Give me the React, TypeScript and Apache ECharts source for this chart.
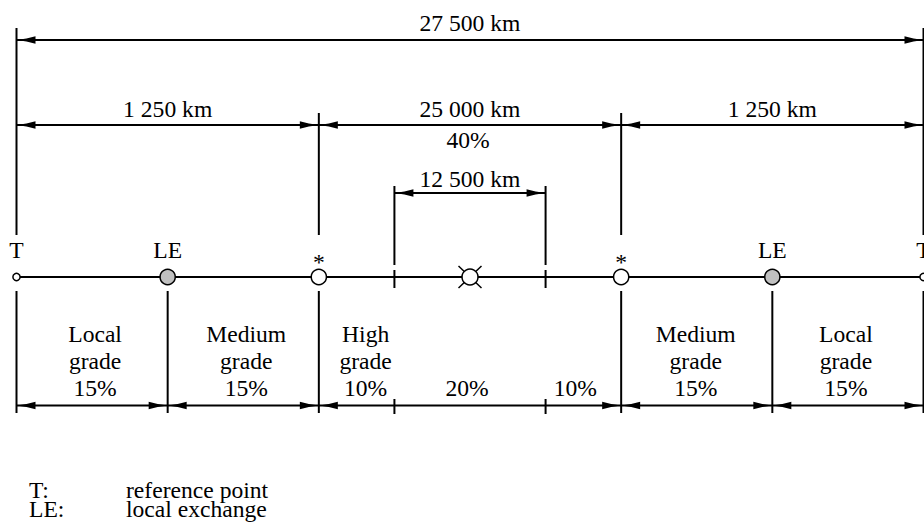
import React, { useEffect, useRef } from "react";
import * as echarts from "echarts";

// ---- Data (schematic positions along the connection, not to scale) ----
const nodeLabels = ["T", "LE", "*", "", "", "", "*", "LE", "T"];
const nodeKinds = ["ref", "le", "exch", "tick", "intl", "tick", "exch", "le", "ref"];
const nodePos = [0, 2, 4, 5, 6, 7, 8, 10, 12];

const segmentNames = [["Local", "grade"], ["Medium", "grade"], ["High", "grade"], [], [], ["Medium", "grade"], ["Local", "grade"]];
const segmentShares = [15, 15, 10, 20, 10, 15, 15];
const segmentFrom = [0, 2, 4, 5, 7, 8, 10];
const segmentTo = [2, 4, 5, 7, 8, 10, 12];

const distanceLabels = ["27 500 km", "1 250 km", "25 000 km", "1 250 km", "12 500 km"];
const distanceNotes = ["", "", "40%", "", ""];
const distanceFrom = [0, 0, 4, 8, 5];
const distanceTo = [12, 4, 8, 12, 7];

const legendKeys = ["T:", "LE:"];
const legendTexts = ["reference point", "local exchange"];

// ---- Layout / style ----
const FONT = "'Liberation Serif', 'Times New Roman', Times, serif";
const FS = 23.6;
const MID = 0.3375 * FS; // alphabetic baseline -> middle offset
const distanceRowY = [40, 125, 125, 125, 193];
const distanceTextBase = [31, 117, 117, 117, 187];
const NOTE_BASE = 148;
const LINE_Y = 277;
const BOTTOM_ARROW_Y = 405.5;
const segLabelDx = [3, 3, 9, -3, -8, -1, -2];
const SEG_BASE = 395.7;
const SEG_GAP = 27;
const LEGEND_BASE = 498;
const LEGEND_GAP = 18.7;
const verticalSpans: Record<string, number[][]> = {
  ref: [[28, 235], [291, 413]],
  le: [[291, 413]],
  exch: [[113, 235], [291, 413]],
  tick: [[186, 265], [270, 288], [399, 414]],
  intl: [],
};
const LW = 2;

function textEl(text: string, x: number, y: number, align = "center") {
  return {
    type: "text",
    style: { text, x, y, fill: "#000", fontFamily: FONT, fontSize: FS, align, verticalAlign: "middle" },
  };
}

function arrowHead(tipX: number, y: number, dir: number) {
  const L = 19, W = 3.7;
  return {
    type: "polygon",
    shape: {
      points: [
        [tipX, y],
        [tipX + dir * 10, y - 1.6],
        [tipX + dir * L, y - W],
        [tipX + dir * L, y + W],
        [tipX + dir * 10, y + 1.6],
      ],
    },
    style: { fill: "#000" },
  };
}

function dimArrow(x1: number, x2: number, y: number) {
  return [
    { type: "line", shape: { x1, y1: y, x2, y2: y }, style: { stroke: "#000", lineWidth: LW } },
    arrowHead(x1, y, 1),
    arrowHead(x2, y, -1),
  ];
}

export default function App() {
  const ref = useRef<HTMLDivElement>(null);
  useEffect(() => {
    if (!ref.current) return;
    const chart = echarts.init(ref.current, undefined, { renderer: "svg" });

    const boundaries = nodePos.filter((_, i) => ["ref", "le", "exch"].includes(nodeKinds[i]));
    const bottomFrom = boundaries.slice(0, -1);
    const bottomTo = boundaries.slice(1);

    const legendTop = LEGEND_BASE - MID - LEGEND_GAP / 2;

    const option: any = {
      animation: false,
      backgroundColor: "#fff",
      grid: { left: 16.5, right: 0.5, top: 0, bottom: 0 },
      xAxis: { type: "value", min: 0, max: 12, show: false },
      yAxis: { type: "value", min: 0, max: 529, inverse: true, show: false },
      series: [
        // distance dimension arrows
        {
          type: "custom",
          coordinateSystem: "cartesian2d",
          data: distanceLabels.map((_, i) => [distanceFrom[i], distanceRowY[i], distanceTo[i]]),
          renderItem: (params: any, api: any) => {
            const i = params.dataIndex;
            const [x1, y] = api.coord([distanceFrom[i], distanceRowY[i]]);
            const [x2] = api.coord([distanceTo[i], distanceRowY[i]]);
            const mid = (distanceFrom[i] + distanceTo[i]) / 2;
            const [tx, ty] = api.coord([mid, distanceTextBase[i] - MID]);
            const children: any[] = [...dimArrow(x1, x2, y), textEl(distanceLabels[i], tx, ty)];
            if (distanceNotes[i]) {
              const [, ny] = api.coord([mid, NOTE_BASE - MID]);
              children.push(textEl(distanceNotes[i], tx - 2, ny));
            }
            return { type: "group", children };
          },
        },
        // bottom share arrows
        {
          type: "custom",
          coordinateSystem: "cartesian2d",
          data: bottomFrom.map((f, i) => [f, BOTTOM_ARROW_Y, bottomTo[i]]),
          renderItem: (params: any, api: any) => {
            const i = params.dataIndex;
            const [x1, y] = api.coord([bottomFrom[i], BOTTOM_ARROW_Y]);
            const [x2] = api.coord([bottomTo[i], BOTTOM_ARROW_Y]);
            return { type: "group", children: dimArrow(x1, x2, y) };
          },
        },
        // main line
        {
          type: "custom",
          coordinateSystem: "cartesian2d",
          data: [[nodePos[0], LINE_Y, nodePos[nodePos.length - 1]]],
          renderItem: (params: any, api: any) => {
            const [x1, y] = api.coord([nodePos[0], LINE_Y]);
            const [x2] = api.coord([nodePos[nodePos.length - 1], LINE_Y]);
            return { type: "line", shape: { x1, y1: y, x2, y2: y }, style: { stroke: "#000", lineWidth: LW } };
          },
        },
        // verticals
        {
          type: "custom",
          coordinateSystem: "cartesian2d",
          data: nodePos.map((p) => [p, LINE_Y]),
          renderItem: (params: any, api: any) => {
            const i = params.dataIndex;
            const spans = verticalSpans[nodeKinds[i]];
            const children = spans.map(([a, b]) => {
              const [x, y1] = api.coord([nodePos[i], a]);
              const [, y2] = api.coord([nodePos[i], b]);
              return { type: "line", shape: { x1: x, y1, x2: x, y2 }, style: { stroke: "#000", lineWidth: LW } };
            });
            return { type: "group", children };
          },
        },
        // nodes + node labels
        {
          type: "custom",
          coordinateSystem: "cartesian2d",
          data: nodePos.map((p) => [p, LINE_Y]),
          renderItem: (params: any, api: any) => {
            const i = params.dataIndex;
            const kind = nodeKinds[i];
            const [cx, cy] = api.coord([nodePos[i], LINE_Y]);
            const children: any[] = [];
            if (kind === "ref") {
              children.push({ type: "circle", shape: { cx, cy, r: 3.6 }, style: { fill: "#fff", stroke: "#000", lineWidth: 1.5 } });
            } else if (kind === "le") {
              children.push({ type: "circle", shape: { cx, cy, r: 7.6 }, style: { fill: "#c0c0c0", stroke: "#000", lineWidth: 1.5 } });
            } else if (kind === "exch") {
              children.push({ type: "circle", shape: { cx, cy, r: 7.6 }, style: { fill: "#fff", stroke: "#000", lineWidth: 1.5 } });
            } else if (kind === "intl") {
              children.push({ type: "line", shape: { x1: cx - 11.5, y1: cy - 11, x2: cx + 11.5, y2: cy + 11 }, style: { stroke: "#000", lineWidth: 1.5 } });
              children.push({ type: "line", shape: { x1: cx - 11.5, y1: cy + 11, x2: cx + 11.5, y2: cy - 11 }, style: { stroke: "#000", lineWidth: 1.5 } });
              children.push({ type: "circle", shape: { cx, cy, r: 8 }, style: { fill: "#fff", stroke: "#000", lineWidth: 1.5 } });
            }
            if (nodeLabels[i]) {
              const base = nodeLabels[i] === "*" ? 270 : 258;
              const [, ty] = api.coord([nodePos[i], base - MID]);
              children.push(textEl(nodeLabels[i], cx, ty));
            }
            return { type: "group", children };
          },
        },
        // segment labels
        {
          type: "custom",
          coordinateSystem: "cartesian2d",
          data: segmentShares.map((s, i) => [(segmentFrom[i] + segmentTo[i]) / 2, SEG_BASE, s]),
          renderItem: (params: any, api: any) => {
            const i = params.dataIndex;
            const lines = [...segmentNames[i], segmentShares[i] + "%"];
            const mid = (segmentFrom[i] + segmentTo[i]) / 2;
            const children = lines.map((t, k) => {
              const base = SEG_BASE - (lines.length - 1 - k) * SEG_GAP;
              const [x, y] = api.coord([mid, base - MID]);
              return textEl(t, x + segLabelDx[i], y);
            });
            return { type: "group", children };
          },
        },
      ],
      graphic: [
        {
          type: "text",
          x: 29,
          y: legendTop,
          style: {
            text: legendKeys.join("\n"),
            fill: "#000",
            fontFamily: FONT,
            fontSize: FS,
            lineHeight: LEGEND_GAP,
            align: "left",
            verticalAlign: "top",
          },
        },
        {
          type: "text",
          x: 126,
          y: legendTop,
          style: {
            text: legendTexts.join("\n"),
            fill: "#000",
            fontFamily: FONT,
            fontSize: FS,
            lineHeight: LEGEND_GAP,
            align: "left",
            verticalAlign: "top",
          },
        },
      ],
    };
    chart.setOption(option);
    return () => chart.dispose();
  }, []);
  return (
    <div
      ref={ref}
      style={{ position: "fixed", left: 0, top: 0, width: 924, height: 529, background: "#fff" }}
    />
  );
}
